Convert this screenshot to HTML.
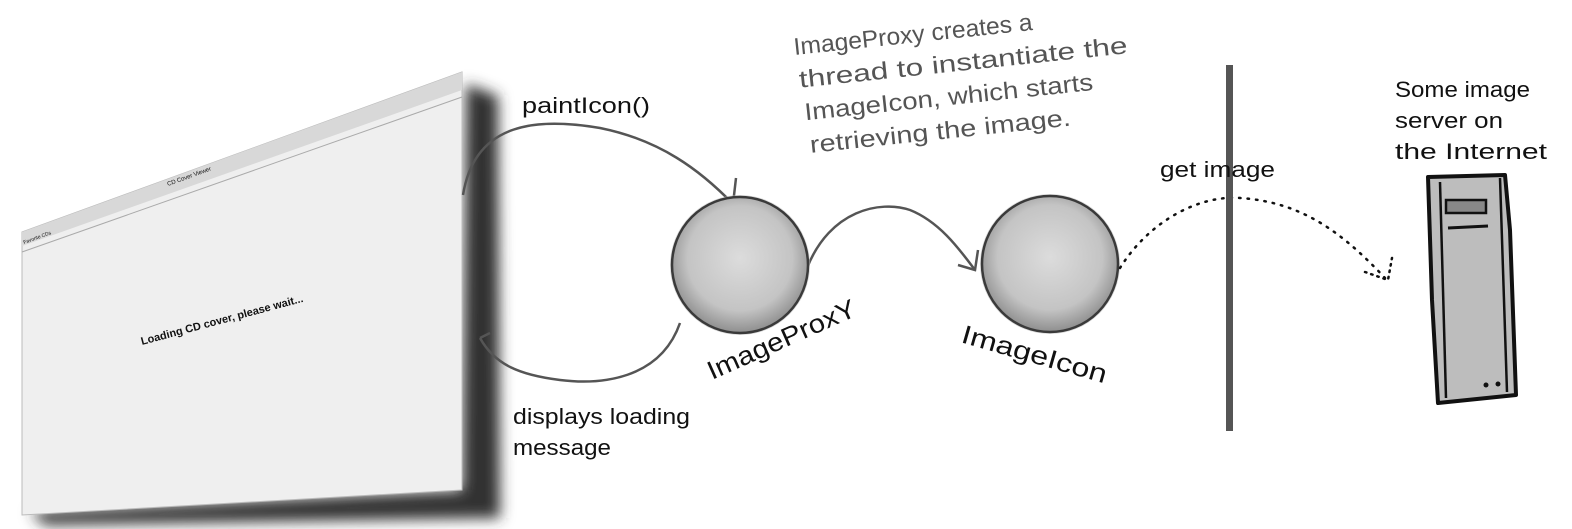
<!DOCTYPE html>
<html><head><meta charset="utf-8"><style>
html,body{margin:0;padding:0;background:#fff;}
svg{display:block}
text{font-family:"Liberation Sans",sans-serif;fill:#111}
</style></head><body>
<svg width="1572" height="529" viewBox="0 0 1572 529" xmlns="http://www.w3.org/2000/svg">
<defs>
<radialGradient id="g" cx="0.5" cy="0.45" r="0.55">
<stop offset="0" stop-color="#dcdcdc"/><stop offset="0.7" stop-color="#c4c4c4"/><stop offset="1" stop-color="#8e8e8e"/>
</radialGradient>
<filter id="b"><feGaussianBlur stdDeviation="7"/></filter>
</defs>
<!-- window shadow -->
<polygon points="466,84 498,96 500,518 45,525 30,512 462,490" fill="#333" filter="url(#b)"/>
<polygon points="22,232 462,72 462,490 22,515" fill="#efefef" stroke="#bbb"/>
<polygon points="22,232 462,72 462,90 22,246" fill="#d8d8d8"/>
<line x1="22" y1="252" x2="462" y2="97" stroke="#aaa"/>
<text x="0" y="0" font-size="6" transform="translate(168,186) rotate(-20)">CD Cover Viewer</text>
<text x="0" y="0" font-size="5" transform="translate(24,244) rotate(-20)">Favorite CDs</text>
<text x="0" y="0" font-size="11" font-weight="bold" transform="translate(142,345) rotate(-15)">Loading CD cover, please wait...</text>
<!-- arrows -->
<g fill="none" stroke="#555" stroke-width="2.5">
<path d="M463,195 C475,120 540,118 600,128 C660,140 700,170 733,204"/>
<path d="M716,201 L733,204 L736,178"/>
<path d="M807,268 C830,210 880,200 910,210 C940,222 960,250 975,270"/>
<path d="M958,265 L975,270 L978,250"/>
<path d="M680,323 C660,380 600,385 560,380 C520,375 495,365 480,338"/>
<path d="M480,338 L490,333"/>
</g>
<!-- circles -->
<circle cx="740" cy="265" r="70" fill="#c0c0c0" opacity="0.6"/>
<circle cx="740" cy="265" r="68" fill="url(#g)" stroke="#3a3a3a" stroke-width="2.5"/>
<circle cx="1050" cy="264" r="70" fill="#c0c0c0" opacity="0.6"/>
<circle cx="1050" cy="264" r="68" fill="url(#g)" stroke="#3a3a3a" stroke-width="2.5"/>
<!-- dotted connector -->
<path d="M1120,268 C1150,220 1200,195 1240,198 C1300,202 1340,230 1385,278" fill="none" stroke="#111" stroke-width="2.5" stroke-dasharray="1.5 7" stroke-linecap="round"/>
<path d="M1365,272 L1388,280 L1392,258" fill="none" stroke="#111" stroke-width="2.5" stroke-dasharray="1.5 5" stroke-linecap="round"/>
<!-- vertical line -->
<rect x="1226" y="65" width="7" height="366" fill="#555"/>
<!-- server -->
<path d="M1428,177 L1505,175 L1510,230 L1516,395 L1438,403 L1432,300 Z" fill="#bdbdbd" stroke="#111" stroke-width="4" stroke-linejoin="round"/>
<line x1="1440" y1="182" x2="1446" y2="398" stroke="#111" stroke-width="2.5"/>
<line x1="1500" y1="178" x2="1507" y2="392" stroke="#111" stroke-width="2.5"/>
<rect x="1446" y="200" width="40" height="13" fill="#888" stroke="#111" stroke-width="2.5"/>
<line x1="1448" y1="228" x2="1488" y2="226" stroke="#111" stroke-width="3"/>
<circle cx="1486" cy="385" r="2.5" fill="#111"/><circle cx="1498" cy="384" r="2.5" fill="#111"/>
<!-- labels -->
<text x="522" y="113" font-size="22" textLength="128" lengthAdjust="spacingAndGlyphs">paintIcon()</text>
<text x="513" y="424" font-size="22" textLength="177" lengthAdjust="spacingAndGlyphs">displays loading</text>
<text x="513" y="455" font-size="22" textLength="98" lengthAdjust="spacingAndGlyphs">message</text>
<text x="1160" y="177" font-size="22" textLength="115" lengthAdjust="spacingAndGlyphs">get image</text>
<text x="1395" y="97" font-size="22" textLength="135" lengthAdjust="spacingAndGlyphs">Some image</text>
<text x="1395" y="128" font-size="22" textLength="108" lengthAdjust="spacingAndGlyphs">server on</text>
<text x="1395" y="159" font-size="22" textLength="152" lengthAdjust="spacingAndGlyphs">the Internet</text>
<text font-size="26" transform="translate(712,380) rotate(-24)" textLength="160" lengthAdjust="spacingAndGlyphs">ImageProxY</text>
<text font-size="26" transform="translate(960,342) rotate(16)" textLength="150" lengthAdjust="spacingAndGlyphs">ImageIcon</text>
<g font-size="24" transform="rotate(-6 795 60)">
<text x="795" y="55" style="fill:#555" textLength="240" lengthAdjust="spacingAndGlyphs">ImageProxy creates a</text>
<text x="797" y="88" style="fill:#555" textLength="330" lengthAdjust="spacingAndGlyphs">thread to instantiate the</text>
<text x="799" y="121" style="fill:#555" textLength="290" lengthAdjust="spacingAndGlyphs">ImageIcon, which starts</text>
<text x="801" y="154" style="fill:#555" textLength="262" lengthAdjust="spacingAndGlyphs">retrieving the image.</text>
</g>
</svg>
</body></html>
